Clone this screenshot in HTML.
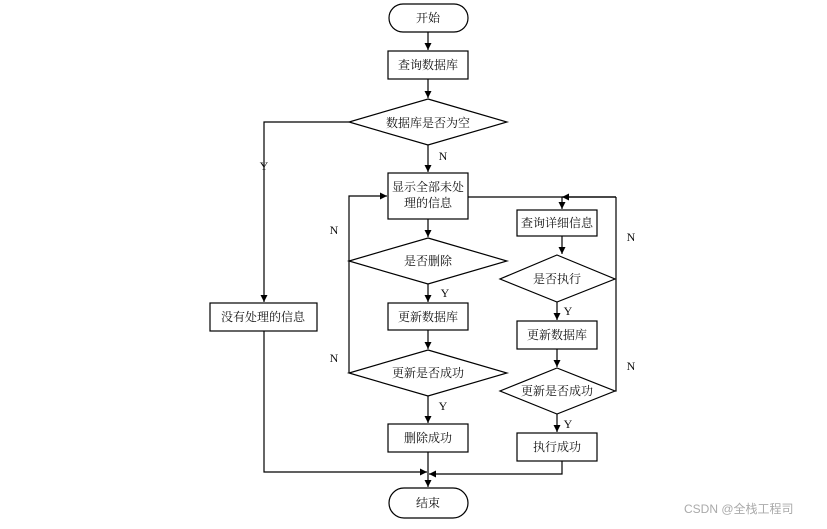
<!DOCTYPE html>
<html><head><meta charset="utf-8"><style>
body{margin:0;background:#fff}
svg text{font-family:"Liberation Serif","Noto Serif CJK SC",serif;font-size:12px;fill:#111}
</style></head><body>
<svg width="827" height="524" viewBox="0 0 827 524" xmlns="http://www.w3.org/2000/svg">
<defs><marker id="a" markerWidth="8" markerHeight="8" refX="7" refY="4" orient="auto" markerUnits="userSpaceOnUse"><path d="M0,0.5 L7,4 L0,7.5z" fill="#000"/></marker></defs>
<g stroke="#000" stroke-width="1.2" fill="none">
<rect x="389" y="4" width="79" height="28" rx="14" fill="#fff"/>
<line x1="428" y1="32" x2="428" y2="50" marker-end="url(#a)"/>
<rect x="388" y="51" width="80" height="28"/>
<line x1="428" y1="79" x2="428" y2="98" marker-end="url(#a)"/>
<polygon points="428,99 507,122 428,145 349,122"/>
<polyline points="349,122 264,122 264,302" marker-end="url(#a)"/>
<line x1="428" y1="145" x2="428" y2="172" marker-end="url(#a)"/>
<rect x="388" y="173" width="80" height="46"/>
<line x1="428" y1="219" x2="428" y2="237" marker-end="url(#a)"/>
<polygon points="428,238 507,261 428,284 349,261"/>
<line x1="428" y1="284" x2="428" y2="302" marker-end="url(#a)"/>
<rect x="388" y="303" width="80" height="27"/>
<line x1="428" y1="330" x2="428" y2="349" marker-end="url(#a)"/>
<polygon points="428,350 507,373 428,396 349,373"/>
<polyline points="349,373 349,196 387,196" marker-end="url(#a)"/>
<line x1="428" y1="396" x2="428" y2="423" marker-end="url(#a)"/>
<rect x="388" y="424" width="80" height="28"/>
<line x1="428" y1="452" x2="428" y2="487" marker-end="url(#a)"/>
<rect x="389" y="488" width="79" height="30" rx="15" fill="#fff"/>
<rect x="210" y="303" width="107" height="28"/>
<polyline points="264,331 264,472 427,472" marker-end="url(#a)"/>
<line x1="468" y1="197" x2="616" y2="197"/>
<line x1="562" y1="197" x2="562" y2="209" marker-end="url(#a)"/>
<polyline points="616,197 616,391 615,391"/>
<line x1="616" y1="197" x2="562" y2="197" marker-end="url(#a)"/>
<rect x="517" y="210" width="80" height="26"/>
<line x1="562" y1="236" x2="562" y2="254" marker-end="url(#a)"/>
<polygon points="557,255 615,279 557,302 500,279"/>
<line x1="557" y1="302" x2="557" y2="320" marker-end="url(#a)"/>
<rect x="517" y="321" width="80" height="28"/>
<line x1="557" y1="349" x2="557" y2="367" marker-end="url(#a)"/>
<polygon points="557,368 615,391 557,414 500,391"/>
<line x1="557" y1="414" x2="557" y2="432" marker-end="url(#a)"/>
<rect x="517" y="433" width="80" height="28"/>
<polyline points="562,461 562,474 429,474" marker-end="url(#a)"/>
</g>
<g text-anchor="middle">
<text x="428" y="22">开始</text>
<text x="428" y="69">查询数据库</text>
<text x="428" y="127">数据库是否为空</text>
<text x="428" y="191">显示全部未处</text>
<text x="428" y="207">理的信息</text>
<text x="428" y="265">是否删除</text>
<text x="428" y="321">更新数据库</text>
<text x="428" y="377">更新是否成功</text>
<text x="428" y="442">删除成功</text>
<text x="428" y="507">结束</text>
<text x="263" y="321">没有处理的信息</text>
<text x="557" y="227">查询详细信息</text>
<text x="557" y="283">是否执行</text>
<text x="557" y="339">更新数据库</text>
<text x="557" y="395">更新是否成功</text>
<text x="557" y="451">执行成功</text>
<text x="264" y="170">Y</text>
<text x="443" y="160">N</text>
<text x="334" y="234">N</text>
<text x="445" y="297">Y</text>
<text x="334" y="362">N</text>
<text x="443" y="410">Y</text>
<text x="568" y="315">Y</text>
<text x="568" y="428">Y</text>
<text x="631" y="241">N</text>
<text x="631" y="370">N</text>
</g>
<text x="684" y="513" style="font-family:'Liberation Sans','Noto Sans CJK SC',sans-serif;font-size:12px;fill:#aaa">CSDN @全栈工程司</text>
</svg>
</body></html>
